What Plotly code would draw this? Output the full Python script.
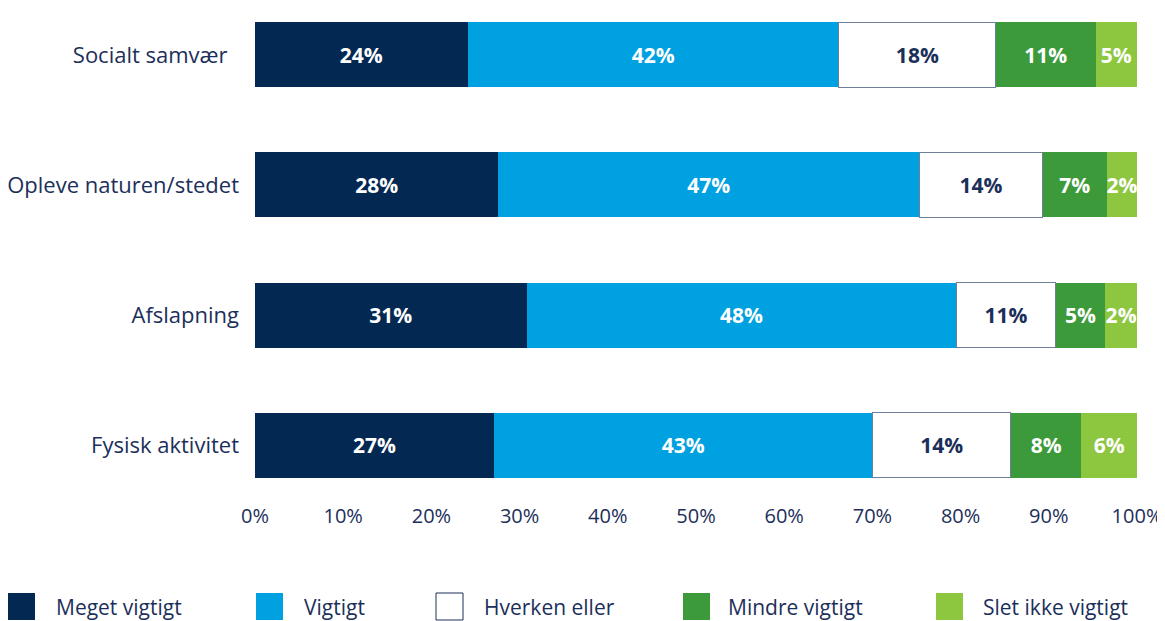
import plotly.graph_objects as go

# categories (top to bottom)
categories = ["Socialt samvær\u00a0\u00a0", "Opleve naturen/stedet", "Afslapning", "Fysisk aktivitet"]

# segment widths (percent of respondents)
meget = [24.1, 27.6, 30.8, 27.1]
vigtigt = [42.1, 47.7, 48.7, 42.9]
hverken = [17.8, 14.0, 11.3, 15.7]
mindre = [11.3, 7.3, 5.6, 8.0]
slet = [4.7, 3.4, 3.6, 6.3]

# printed labels
meget_lbl = ["24%", "28%", "31%", "27%"]
vigtigt_lbl = ["42%", "47%", "48%", "43%"]
hverken_lbl = ["18%", "14%", "11%", "14%"]
mindre_lbl = ["11%", "7%", "5%", "8%"]
slet_lbl = ["5%", "2%", "2%", "6%"]

series_names = ["Meget vigtigt", "Vigtigt", "Hverken eller", "Mindre vigtigt", "Slet ikke vigtigt"]
x_ticks = [0, 10, 20, 30, 40, 50, 60, 70, 80, 90, 100]

NAVY = "#032852"
TEXT = "#1c2f5a"
colors = [NAVY, "#00a1e0", "#ffffff", "#3c9a3b", "#8dc63f"]
text_colors = ["white", "white", TEXT, "white", "white"]
FONT = "Open Sans"

# the page body has an 8px margin, so the figure is a bit smaller than the window
OFF = 8
W, H = 1165 - OFF, 621 - OFF

fig = go.Figure()
for name, vals, lbls, col, tcol in zip(series_names,
                                       [meget, vigtigt, hverken, mindre, slet],
                                       [meget_lbl, vigtigt_lbl, hverken_lbl, mindre_lbl, slet_lbl],
                                       colors, text_colors):
    fig.add_trace(go.Bar(
        y=categories, x=vals, name=name, orientation="h",
        marker=dict(color=col,
                    line=dict(color="#6f7f99" if col == "#ffffff" else col,
                              width=1 if col == "#ffffff" else 0)),
        text=lbls, textposition="inside", insidetextanchor="middle",
        constraintext="none", textangle=0,
        textfont=dict(family=FONT, size=21, color=tcol, weight="bold"),
        hoverinfo="skip",
    ))

# grid lines every 20%
for v in [20, 40, 60, 80, 100]:
    fig.add_vline(x=v, line=dict(color="#1f3560", width=1), layer="below")
fig.add_vline(x=0, line=dict(color="#8a98ad", width=2), layer="below")

# plot area in window pixels: x 255..1137, y 12..488
L, R, T, B = 255, 1137, 12, 488


def px(x):
    return (x - L) / (R - L)


def py(y):
    return (B - y) / (B - T)


# hand-built legend below the chart
sq_x = [8, 256, 436, 683, 936]
txt_x = [54, 302, 482, 726, 981]
shapes = []
annotations = []
for name, col, sx, tx in zip(series_names, colors, sq_x, txt_x):
    shapes.append(dict(type="rect", xref="paper", yref="paper",
                       x0=px(sx), x1=px(sx + 27), y0=py(620), y1=py(593),
                       fillcolor=col,
                       line=dict(color=TEXT if col == "#ffffff" else col,
                                 width=1 if col == "#ffffff" else 0)))
    annotations.append(dict(xref="paper", yref="paper", x=px(tx), y=py(607),
                            xanchor="left", yanchor="middle", showarrow=False,
                            text=name, font=dict(family=FONT, size=21, color=TEXT)))

fig.update_layout(
    barmode="stack",
    bargap=0.5,
    width=W, height=H,
    margin=dict(l=L - OFF, r=1165 - R, t=T - OFF, b=621 - B),
    paper_bgcolor="white", plot_bgcolor="white",
    showlegend=False,
    shapes=shapes,
    annotations=annotations,
    font=dict(family=FONT, color=TEXT),
)
fig.update_xaxes(range=[0, 100], tickvals=x_ticks, ticktext=[f"{t}%" for t in x_ticks],
                 showgrid=False, zeroline=False, showline=False, automargin=False,
                 tickfont=dict(family=FONT, size=20, color=TEXT),
                 ticks="", ticklabelstandoff=14)
fig.update_yaxes(range=[3.33, -0.33], showgrid=False, zeroline=False, showline=False,
                 automargin=False,
                 tickfont=dict(family=FONT, size=22, color=TEXT),
                 ticks="", ticklabelstandoff=15)

fig.write_html("out.html")
